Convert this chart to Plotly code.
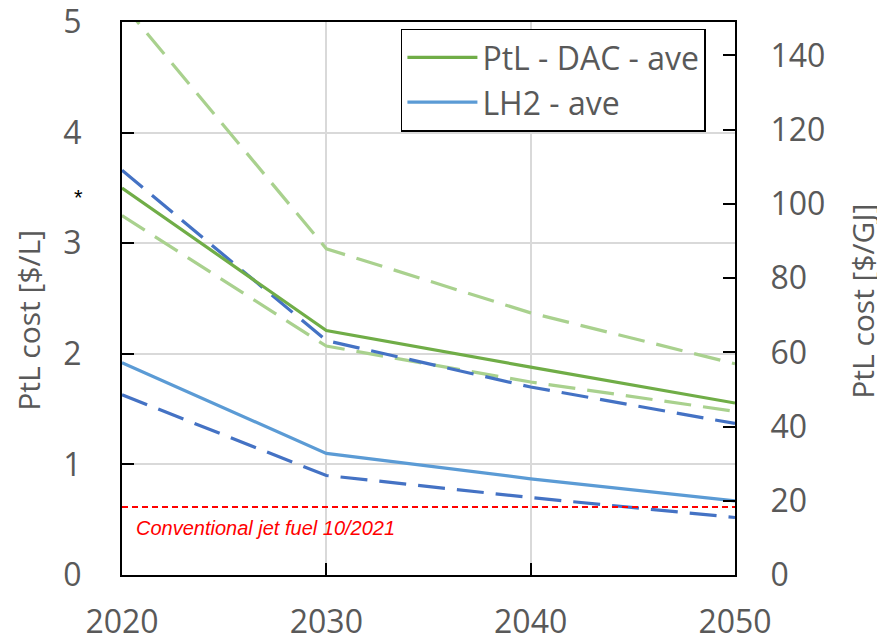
import plotly.graph_objects as go

years = [2020, 2030, 2040, 2050]
ptl_dac_ave = [3.50, 2.21, 1.88, 1.555]
ptl_dac_high = [5.17, 2.95, 2.37, 1.91]
ptl_dac_low = [3.25, 2.07, 1.745, 1.48]
lh2_high = [3.66, 2.12, 1.70, 1.37]
lh2_ave = [1.92, 1.10, 0.87, 0.67]
lh2_low = [1.63, 0.90, 0.70, 0.52]
jet_fuel_cost = 0.615
usd_per_l_to_usd_per_gj = 29.8
left_ticks = [0, 1, 2, 3, 4, 5]
right_ticks = [0, 20, 40, 60, 80, 100, 120, 140]
x_ticks = [2020, 2030, 2040, 2050]

GREEN = "#70AD47"
LGREEN = "#A9D18E"
BLUE = "#4472C4"
LBLUE = "#5B9BD5"
GREY = "#595959"
FONT = "Open Sans"
DASH = "27px,12px"
YMAX = 5.0005

fig = go.Figure()
for ys in (ptl_dac_high, ptl_dac_low):
    fig.add_trace(go.Scatter(x=years, y=ys, mode="lines", showlegend=False,
                             line=dict(color=LGREEN, width=3.2, dash=DASH)))
for ys in (lh2_high, lh2_low):
    fig.add_trace(go.Scatter(x=years, y=ys, mode="lines", showlegend=False,
                             line=dict(color=BLUE, width=3.2, dash=DASH)))
fig.add_trace(go.Scatter(x=years, y=ptl_dac_ave, mode="lines", name="PtL - DAC - ave",
                         line=dict(color=GREEN, width=3.2)))
fig.add_trace(go.Scatter(x=years, y=lh2_ave, mode="lines", name="LH2 - ave",
                         line=dict(color=LBLUE, width=3.2)))
fig.add_trace(go.Scatter(x=[2020], y=[0], yaxis="y2", mode="markers", showlegend=False,
                         marker=dict(opacity=0), hoverinfo="skip"))

fig.add_shape(type="line", xref="paper", x0=0, x1=1, yref="y",
              y0=jet_fuel_cost, y1=jet_fuel_cost,
              line=dict(color="#FF0000", width=2, dash="6px,4px"))

fig.add_annotation(x=2020.6, y=0.425, xref="x", yref="y", xanchor="left", yanchor="middle",
                   text="<i>Conventional jet fuel 10/2021</i>", showarrow=False,
                   font=dict(family="Liberation Sans, Arial", size=20, color="#FF0000"))
fig.add_annotation(x=-0.082, y=3.41, xref="paper", yref="y", text="*", showarrow=False,
                   font=dict(family="Liberation Sans, Arial", size=22, color="black"))
fig.add_annotation(x=-0.153, y=0.46, xref="paper", yref="paper", text="PtL cost [$/L]",
                   textangle=-90, showarrow=False, xanchor="center", yanchor="middle",
                   font=dict(family=FONT, size=30, color=GREY))
fig.add_annotation(x=1.208, y=0.495, xref="paper", yref="paper", text="PtL cost [$/GJ]",
                   textangle=-90, showarrow=False, xanchor="center", yanchor="middle",
                   font=dict(family=FONT, size=30, color=GREY))

fig.update_layout(
    width=877, height=634,
    margin=dict(l=114, r=150, t=14, b=67),
    plot_bgcolor="white", paper_bgcolor="white",
    font=dict(family=FONT, color=GREY),
    showlegend=True,
    legend=dict(x=0.455, y=0.988, xanchor="left", yanchor="top",
                bgcolor="white", bordercolor="black", borderwidth=1.5,
                font=dict(family=FONT, size=32, color=GREY),
                tracegroupgap=0, itemwidth=70),
    xaxis=dict(range=[2020, 2050], tickvals=x_ticks, showgrid=True, gridcolor="#D9D9D9",
               gridwidth=1.5, showline=True, linecolor="black", linewidth=2, mirror=True,
               ticks="inside", ticklen=12, tickcolor="black", tickwidth=2,
               tickfont=dict(family=FONT, size=32, color=GREY), ticklabelstandoff=18,
               ticklabeloverflow="allow", zeroline=False, automargin=False),
    yaxis=dict(range=[0, YMAX], tickvals=left_ticks, showgrid=True, gridcolor="#D9D9D9",
               gridwidth=1.5, showline=True, linecolor="black", linewidth=2, mirror=True,
               ticks="inside", ticklen=12, tickcolor="black", tickwidth=2,
               tickfont=dict(family=FONT, size=32, color=GREY), ticklabelstandoff=32,
               ticklabeloverflow="allow", zeroline=False, automargin=False),
    yaxis2=dict(range=[0, YMAX * usd_per_l_to_usd_per_gj], tickvals=right_ticks, overlaying="y",
                side="right", showgrid=False, showline=True, linecolor="black", linewidth=2,
                ticks="inside", ticklen=12, tickcolor="black", tickwidth=2,
                tickfont=dict(family=FONT, size=32, color=GREY), ticklabelstandoff=27,
                ticklabeloverflow="allow", zeroline=False, automargin=False),
)

fig.write_html("out.html")
